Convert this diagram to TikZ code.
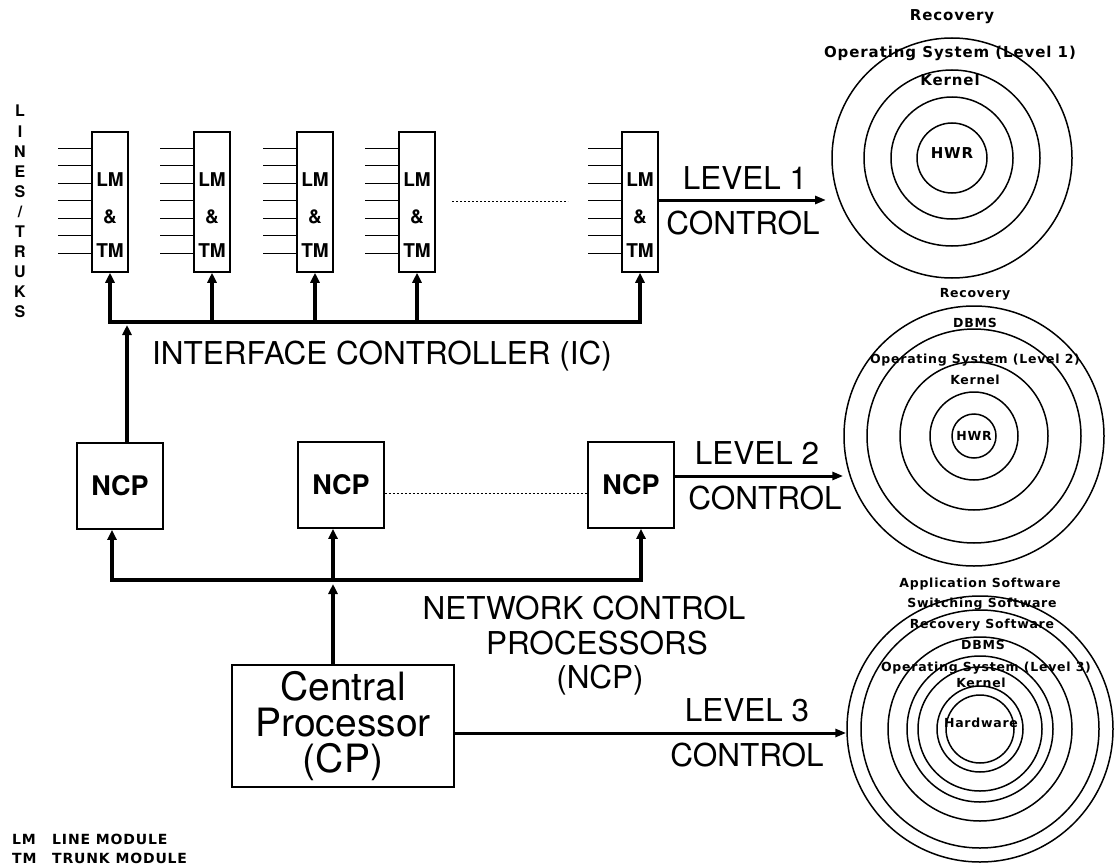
\documentclass[tikz,border=0pt]{standalone}
\usepackage{fontspec}
\newfontfamily\hv{TeX Gyre Heros}
\newfontfamily\wf[LetterSpace=6]{DejaVu Sans}
\usetikzlibrary{arrows.meta,calc}
\begin{document}
\begin{tikzpicture}[x=1pt,y=-1pt,
  box/.style={draw, line width=1.6pt, inner sep=0pt},
  lmbox/.style={draw, line width=1.5pt, minimum width=36pt, minimum height=140pt, inner sep=0pt},
  ncpbox/.style={box, minimum width=86pt, minimum height=86pt, font=\hv\bfseries\fontsize{27}{27}\selectfont},
  bus/.style={line width=3.5pt, line join=miter},
  tip/.style={-{Triangle[length=10pt,width=9pt]}},
  twotip/.style={{Triangle[length=10pt,width=9pt]}-{Triangle[length=10pt,width=9pt]}},
  lvl/.style={line width=3pt, -{Triangle[length=11pt,width=8pt]}},
  big/.style={font=\hv\fontsize{31.5}{31.5}\selectfont, inner sep=0pt, anchor=base},
  lmtxt/.style={font=\hv\bfseries\fontsize{19}{19}\selectfont, inner sep=0pt, anchor=base},
  ring/.style={draw, circle, line width=1.5pt, inner sep=0pt},
  clabA/.style={font=\wf\bfseries\fontsize{15}{15}\selectfont, inner sep=0pt, anchor=base},
  clabB/.style={font=\wf\bfseries\fontsize{12.5}{12.5}\selectfont, inner sep=0pt, anchor=base},
  legtxt/.style={font=\wf\bfseries\fontsize{14}{14}\selectfont, inner sep=0pt, anchor=base west},
  vtxt/.style={font=\hv\bfseries\fontsize{16}{16}\selectfont, inner sep=0pt, anchor=base},
  inl/.style={line width=1.3pt},
  dots/.style={line width=1pt, dash pattern=on 2pt off 2pt},
]
\fill[white] (0,0) rectangle (1114,867);
\useasboundingbox (0,0) rectangle (1114,867);

% LINES/TRUKS
\foreach \c [count=\k from 0] in {L,I,N,E,S,/,T,R,U,K,S}
  \node[vtxt] (lt\k) at (20,{117+20*\k}) {\c};

% LM & TM blocks
\foreach \i/\x in {1/110,2/212,3/315,4/417,5/640} {
  \node[lmbox] (b\i) at (\x,202) {};
  \node[lmtxt] (lm\i) at (\x,186) {LM};
  \node[lmtxt] (amp\i) at (\x,223) {\&};
  \node[lmtxt] (tm\i) at (\x,257) {TM};
  \foreach \k in {0,...,6}
    \draw[inl] ([shift={(0,{17+17.5*\k})}]b\i.north west) -- ++(-33,0);
}
\coordinate (d1a) at (452,201);
\coordinate (d1b) at (568,201);
\draw[dots] (d1a) -- (d1b);

% IC bus
\coordinate (icbus) at (0,322);
\draw[bus,twotip] (b1.south) -- (b1.south |- icbus) -- (b5.south |- icbus) -- (b5.south);
\foreach \i in {2,3,4} \draw[bus,tip] (b\i.south |- icbus) -- (b\i.south);
\node[big, anchor=base west] (ic) at (152,364) {INTERFACE CONTROLLER (IC)};

% NCPs
\node[ncpbox] (n1) at (120,486) {NCP};
\node[ncpbox] (n2) at (341,485) {NCP};
\node[ncpbox] (n3) at (631,485) {NCP};
\coordinate (icin) at (127,325);
\draw[bus,tip] (icin |- n1.north) -- (icin);
\coordinate (dy2) at (0,493);
\draw[dots] (n2.east |- dy2) -- (n3.west |- dy2);

% NCP bus
\coordinate (nbus) at (0,580);
\coordinate (nx1) at (112,0);
\coordinate (nx2) at (333,0);
\coordinate (nx3) at (641,0);
\draw[bus,twotip] (nx1 |- n1.south) -- (nx1 |- nbus) -- (nx3 |- nbus) -- (nx3 |- n3.south);
\draw[bus,tip] (nx2 |- nbus) -- (nx2 |- n2.south);

\node[big] (nc1) at (584,619) {NETWORK CONTROL};
\node[big] (nc2) at (597,654) {PROCESSORS};
\node[big] (nc3) at (600,688) {(NCP)};

% CP
\node[box, minimum width=222pt, minimum height=122pt, align=center,
      font=\hv\fontsize{39}{36}\selectfont] (cp) at (343,726) {Central\\Processor\\(CP)};
\coordinate (cpin) at (333,584);
\draw[bus,tip] (cpin |- cp.north) -- (cpin);

% circles
\node[ring, minimum size=240pt] (c1o) at (952,158) {};
\node[ring, minimum size=176pt] (c1b) at (952,158) {};
\node[ring, minimum size=122pt] (c1c) at (952,158) {};
\node[ring, minimum size=70pt]  (c1d) at (952,158) {};

\node[ring, minimum size=260pt] (c2o) at (974,436) {};
\node[ring, minimum size=214pt] (c2b) at (974,436) {};
\node[ring, minimum size=148pt] (c2c) at (974,436) {};
\node[ring, minimum size=88pt]  (c2d) at (974,436) {};
\node[ring, minimum size=44pt]  (c2e) at (974,436) {};

\node[ring, minimum size=266pt] (c3o) at (980,729) {};
\node[ring, minimum size=238pt] (c3b) at (980,729) {};
\node[ring, minimum size=184pt] (c3c) at (980,729) {};
\node[ring, minimum size=146pt] (c3d) at (980,729) {};
\node[ring, minimum size=124pt] (c3e) at (980,729) {};
\node[ring, minimum size=86pt]  (c3f) at (980,729) {};
\node[ring, minimum size=68pt]  (c3g) at (980,729) {};

% level arrows
\coordinate (l1end) at (826,200);
\draw[lvl] (b5.east |- l1end) -- (l1end);
\coordinate (l2y) at (0,476);
\draw[lvl] (n3.east |- l2y) -- (c2o.west |- l2y);
\coordinate (l3y) at (0,733);
\draw[lvl] (cp.east |- l3y) -- (c3o.west |- l3y);

\node[big] (lv1) at (745,189) {LEVEL 1};
\node[big] (ct1) at (743,234) {CONTROL};
\node[big] (lv2) at (757,464) {LEVEL 2};
\node[big] (ct2) at (765,509) {CONTROL};
\node[big] (lv3) at (747,721) {LEVEL 3};
\node[big] (ct3) at (747,766) {CONTROL};

% circle labels
\node[clabA] (r1a) at (952,21) {Recovery};
\node[clabA] (r1b) at (950,58) {Operating System (Level 1)};
\node[clabA] (r1c) at (950,85) {Kernel};
\node[clabA] (r1d) at (952,158) {HWR};

\node[clabB] (r2a) at (975,297) {Recovery};
\node[clabB] (r2b) at (975,327) {DBMS};
\node[clabB] (r2c) at (975,363) {Operating System (Level 2)};
\node[clabB] (r2d) at (975,384) {Kernel};
\node[clabB] (r2e) at (974,440) {HWR};

\node[clabB] (r3a) at (980,587) {Application Software};
\node[clabB] (r3b) at (982,607) {Switching Software};
\node[clabB] (r3c) at (982,628) {Recovery Software};
\node[clabB] (r3d) at (983,649) {DBMS};
\node[clabB] (r3e) at (986,671) {Operating System (Level 3)};
\node[clabB] (r3f) at (981,687) {Kernel};
\node[clabB] (r3g) at (981,727) {Hardware};

% legend
\node[legtxt] (lg1) at (12,844) {LM};
\node[legtxt] (lg2) at (52,844) {LINE MODULE};
\node[legtxt] (lg3) at (12,863) {TM};
\node[legtxt] (lg4) at (52,863) {TRUNK MODULE};
\end{tikzpicture}
\end{document}
